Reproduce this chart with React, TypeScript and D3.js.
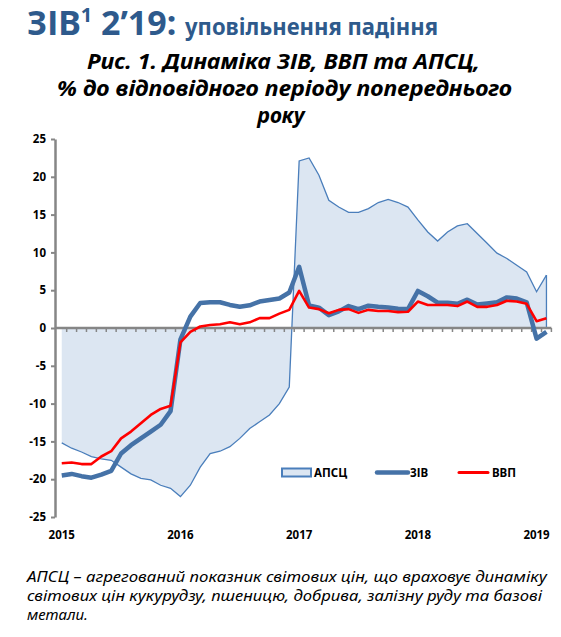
import { useEffect, useRef } from 'react';
import * as d3 from 'd3';

// monthly categories Jan 2015 .. Feb 2019
const years = ['2015', '2016', '2017', '2018', '2019'];
const monthNums = ['01', '02', '03', '04', '05', '06', '07', '08', '09', '10', '11', '12'];
const months = years.flatMap(yr => monthNums.map(m => `${yr}-${m}`)).slice(0, 50);

// АПСЦ, % y/y
const apsc = [
  -15.2, -15.9, -16.4, -17.0, -17.3, -17.5, -18.4, -19.3, -19.9, -20.1, -20.8, -21.2,
  -22.3, -20.8, -18.4, -16.6, -16.3, -15.7, -14.6, -13.3, -12.4, -11.5, -10.0, -7.8,
  22.1, 22.5, 20.2, 16.9, 16.0, 15.3, 15.3, 15.8, 16.6, 17.0, 16.6, 16.0,
  14.3, 12.7, 11.5, 12.7, 13.5, 13.8, 12.5, 11.2, 9.9, 9.2, 8.3, 7.4,
  4.8, 7.0,
];

// ЗІВ, % y/y
const ziv = [
  -19.5, -19.3, -19.6, -19.8, -19.4, -18.9, -16.6, -15.5, -14.6, -13.7, -12.8, -11.0,
  -1.5, 1.5, 3.3, 3.4, 3.4, 3.05, 2.8, 3.0, 3.5, 3.7, 3.9, 4.7,
  8.1, 3.0, 2.7, 1.7, 2.2, 2.9, 2.5, 2.95, 2.8, 2.7, 2.55, 2.5,
  4.9, 4.2, 3.35, 3.35, 3.2, 3.75, 3.1, 3.25, 3.4, 4.05, 3.9, 3.4,
  -1.4, -0.5,
];

// ВВП, % y/y
const vvp = [
  -17.9, -17.8, -18.0, -18.0, -17.0, -16.3, -14.6, -13.7, -12.6, -11.5, -10.7, -10.3,
  -1.9, -0.5, 0.2, 0.4, 0.5, 0.75, 0.5, 0.75, 1.3, 1.3, 1.9, 2.4,
  4.9, 2.7, 2.5, 1.95, 2.4, 2.5, 2.0, 2.4, 2.25, 2.25, 2.1, 2.15,
  3.5, 3.05, 3.05, 3.05, 2.9, 3.5, 2.8, 2.8, 3.05, 3.6, 3.5, 3.2,
  0.9, 1.3,
];

const yTicks = [25, 20, 15, 10, 5, 0, -5, -10, -15, -20, -25];

const FONT = "'Noto Sans', 'Open Sans', sans-serif";

export default function App() {
  const svgRef = useRef<SVGSVGElement>(null);

  useEffect(() => {
    if (!svgRef.current) return;
    const svg = d3.select(svgRef.current);
    svg.selectAll('*').remove();

    const x = d3.scaleBand<string>().domain(months).range([56.8, 551.4]);
    const y = d3.scaleLinear().domain([-25, 25]).range([517, 139]);
    const cx = (i: number) => (x(months[i]) ?? 0) + x.bandwidth() / 2;

    // headings
    const title = svg.append('text')
      .attr('x', 27).attr('y', 35)
      .attr('fill', '#2E5A8C')
      .style('font-family', FONT)
      .style('font-weight', 'bold')
      .style('font-size', '34px');
    title.append('tspan').text('ЗІВ');
    title.append('tspan').attr('dy', -13).style('font-size', '20px').text('1');
    title.append('tspan').attr('dy', 13).text(' 2’19:');

    svg.append('text')
      .attr('x', 185).attr('y', 35)
      .attr('fill', '#2E5A8C')
      .attr('textLength', 253)
      .attr('lengthAdjust', 'spacingAndGlyphs')
      .style('font-family', FONT)
      .style('font-weight', 'bold')
      .style('font-size', '24px')
      .text('уповільнення падіння');

    const sub = [
      { t: 'Рис. 1. Динаміка ЗІВ, ВВП та АПСЦ,', x: 87, y: 69, w: 393, anchor: 'start' },
      { t: '% до відповідного періоду попереднього', x: 57, y: 96, w: 455, anchor: 'start' },
      { t: 'року', x: 281, y: 123, w: 0, anchor: 'middle' },
    ];
    sub.forEach(s => {
      const t = svg.append('text')
        .attr('x', s.x).attr('y', s.y)
        .attr('text-anchor', s.anchor)
        .attr('fill', '#000')
        .style('font-family', FONT)
        .style('font-weight', 'bold')
        .style('font-style', 'italic')
        .style('font-size', '21px')
        .text(s.t);
      if (s.w) t.attr('textLength', s.w).attr('lengthAdjust', 'spacingAndGlyphs');
    });

    // АПСЦ area
    const area = d3.area<number>()
      .x((_d, i) => cx(i))
      .y0(y(0))
      .y1(d => y(d));
    svg.append('path')
      .datum(apsc)
      .attr('d', area)
      .attr('fill', '#DCE6F2');

    const line = d3.line<number>()
      .x((_d, i) => cx(i))
      .y(d => y(d));

    svg.append('path')
      .datum(apsc)
      .attr('d', line)
      .attr('fill', 'none')
      .attr('stroke', '#4A7EBB')
      .attr('stroke-width', 1.3);
    const last = apsc.length - 1;
    svg.append('line')
      .attr('x1', cx(last)).attr('x2', cx(last))
      .attr('y1', y(apsc[last])).attr('y2', y(0))
      .attr('stroke', '#4A7EBB')
      .attr('stroke-width', 1.3);

    // y axis
    const yAxis = svg.append('g')
      .attr('transform', 'translate(55,0)')
      .call(d3.axisLeft(y).tickValues(yTicks).tickSize(4).tickSizeOuter(0).tickPadding(5)
        .tickFormat(d => String(d)));
    yAxis.select('.domain').attr('stroke', '#868686').attr('stroke-width', 2.5);
    yAxis.selectAll('.tick line').attr('stroke', '#868686').attr('stroke-width', 2);
    yAxis.selectAll('.tick text')
      .attr('fill', '#000')
      .style('font-family', FONT)
      .style('font-weight', 'bold')
      .style('font-size', '11.5px');

    // x axis along zero
    const xAxis = svg.append('g');
    xAxis.append('line')
      .attr('x1', 55).attr('x2', x.range()[1])
      .attr('y1', y(0)).attr('y2', y(0))
      .attr('stroke', '#868686')
      .attr('stroke-width', 2.5);
    const bounds = [...months.slice(1).map(m => x(m) ?? 0), x.range()[1]];
    xAxis.selectAll('.xtick')
      .data(bounds)
      .enter().append('line')
      .attr('class', 'xtick')
      .attr('x1', d => d).attr('x2', d => d)
      .attr('y1', y(0)).attr('y2', y(0) + 4)
      .attr('stroke', '#868686')
      .attr('stroke-width', 1.5);

    svg.selectAll('.year')
      .data(years)
      .enter().append('text')
      .attr('class', 'year')
      .attr('x', d => cx(months.indexOf(`${d}-01`)))
      .attr('y', 539)
      .attr('text-anchor', 'middle')
      .attr('fill', '#000')
      .style('font-family', FONT)
      .style('font-weight', 'bold')
      .style('font-size', '11.5px')
      .text(d => d);

    // ЗІВ
    svg.append('path')
      .datum(ziv)
      .attr('d', line)
      .attr('fill', 'none')
      .attr('stroke', '#4572A7')
      .attr('stroke-width', 4.5)
      .attr('stroke-linejoin', 'round');

    // ВВП
    svg.append('path')
      .datum(vvp)
      .attr('d', line)
      .attr('fill', 'none')
      .attr('stroke', '#FF0000')
      .attr('stroke-width', 2.6)
      .attr('stroke-linejoin', 'round');

    // legend
    const legend = svg.append('g');
    legend.append('rect')
      .attr('x', 282).attr('y', 468.5)
      .attr('width', 29).attr('height', 8)
      .attr('fill', '#DCE6F2')
      .attr('stroke', '#4A7EBB')
      .attr('stroke-width', 2);
    legend.append('line')
      .attr('x1', 377).attr('x2', 408)
      .attr('y1', 472.5).attr('y2', 472.5)
      .attr('stroke', '#4572A7')
      .attr('stroke-width', 4.5)
      .attr('stroke-linecap', 'round');
    legend.append('line')
      .attr('x1', 459).attr('x2', 488)
      .attr('y1', 472.5).attr('y2', 472.5)
      .attr('stroke', '#FF0000')
      .attr('stroke-width', 3)
      .attr('stroke-linecap', 'round');
    const legendText = [
      { t: 'АПСЦ', x: 314 },
      { t: 'ЗІВ', x: 410 },
      { t: 'ВВП', x: 492 },
    ];
    legend.selectAll('.ltext')
      .data(legendText)
      .enter().append('text')
      .attr('class', 'ltext')
      .attr('x', d => d.x)
      .attr('y', 477)
      .attr('fill', '#000')
      .style('font-family', FONT)
      .style('font-weight', 'bold')
      .style('font-size', '11.5px')
      .text(d => d.t);

    // footnote
    const notes = [
      { t: 'АПСЦ – агрегований показник світових цін, що враховує динаміку', y: 582, w: 520 },
      { t: 'світових цін кукурудзу, пшеницю, добрива, залізну руду та базові', y: 601, w: 515 },
      { t: 'метали.', y: 620, w: 0 },
    ];
    notes.forEach(n => {
      const t = svg.append('text')
        .attr('x', 27).attr('y', n.y)
        .attr('fill', '#000')
        .style('font-family', FONT)
        .style('font-style', 'italic')
        .style('font-size', '15px')
        .text(n.t);
      if (n.w) t.attr('textLength', n.w).attr('lengthAdjust', 'spacingAndGlyphs');
    });
  }, []);

  return (
    <svg
      ref={svgRef}
      width={561}
      height={637}
      style={{ position: 'absolute', left: 0, top: 0, background: '#fff' }}
    ></svg>
  );
}
